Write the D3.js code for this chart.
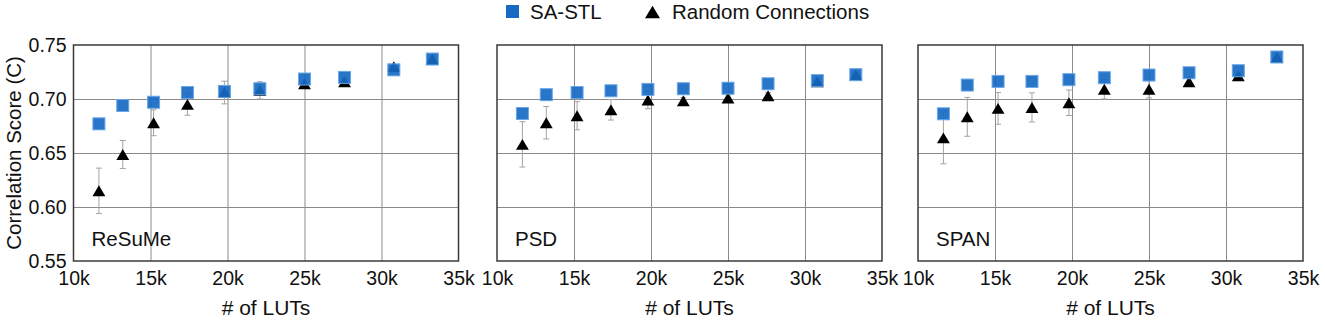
<!DOCTYPE html>
<html>
<head>
<meta charset="utf-8">
<script src="https://cdn.jsdelivr.net/npm/d3@7"></script>
<style>
  body { margin: 0; background: #fff; }
  text { font-family: "Liberation Sans", Arial, sans-serif; fill: #111; }
</style>
</head>
<body>
<div id="chart"></div>
<script>
// # of LUTs (same configurations in every panel)
var luts = [11650, 13200, 15200, 17400, 19800, 22100, 25000, 27600, 30800, 33300]

var panelNames = ["ReSuMe", "PSD", "SPAN"]

// SA-STL scores
var resumeSa = [0.677, 0.694, 0.697, 0.706, 0.707, 0.7095, 0.7185, 0.720, 0.727, 0.737]
var psdSa    = [0.6866, 0.704, 0.706, 0.7076, 0.7089, 0.7095, 0.710, 0.7141, 0.717, 0.7225]
var spanSa   = [0.6863, 0.7129, 0.7163, 0.7163, 0.7179, 0.7197, 0.7222, 0.7243, 0.7262, 0.7389]

// random connections: mean and error
var resumeRand = [0.615, 0.6486, 0.678, 0.695, 0.706, 0.708, 0.714, 0.716, 0.730, 0.737]
var psdRand    = [0.658, 0.678, 0.6845, 0.690, 0.699, 0.6984, 0.701, 0.703, 0.716, 0.7225]
var spanRand   = [0.664, 0.6835, 0.6913, 0.6922, 0.6965, 0.709, 0.709, 0.716, 0.7216, 0.7389]

var resumeErr = [0.021, 0.013, 0.012, 0.010, 0.0105, 0.008, 0.003, 0.003, 0.002, 0.001]
var psdErr    = [0.021, 0.015, 0.013, 0.0095, 0.008, 0.003, 0.003, 0.003, 0.002, 0.001]
var spanErr   = [0.024, 0.018, 0.0147, 0.0135, 0.0118, 0.009, 0.008, 0.003, 0.002, 0.001]

var xTicks = [10000, 15000, 20000, 25000, 30000, 35000]
var yTicks = [0.55, 0.60, 0.65, 0.70, 0.75]

var saList = [resumeSa, psdSa, spanSa]
var randList = [resumeRand, psdRand, spanRand]
var errList = [resumeErr, psdErr, spanErr]

var W = 1325, H = 321
var panelLeft = [73.5, 497, 918],
    panelW = 385,
    plotTop = 45,
    panelH = 216

var blue = "#1769c3", blueEdge = "#6aa6e8"

var svg = d3.select("#chart").append("svg")
    .attr("width", W)
    .attr("height", H)

// triangle centred on its bounding box
var triangle = {
  draw: function(ctx, size) {
    var w = Math.sqrt(size) * 1.15, h = w * 0.85
    ctx.moveTo(0, -h / 2)
    ctx.lineTo(w / 2, h / 2)
    ctx.lineTo(-w / 2, h / 2)
    ctx.closePath()
  }
}

var x = d3.scaleLinear().domain([10000, 35000]).range([0, panelW])
var y = d3.scaleLinear().domain([0.55, 0.75]).range([panelH, 0])

panelNames.forEach(function(name, p) {
  var g = svg.append("g")
      .attr("transform", "translate(" + panelLeft[p] + "," + plotTop + ")")

  // gridlines
  g.append("g")
      .call(d3.axisLeft(y).tickValues(yTicks.slice(1, -1)).tickSize(-panelW).tickFormat(""))
      .call(function(a) { a.select(".domain").remove() })
      .selectAll("line").attr("stroke", "#8a8a8a").attr("stroke-width", 1)
  g.append("g")
      .attr("transform", "translate(0," + panelH + ")")
      .call(d3.axisBottom(x).tickValues(xTicks.slice(1, -1)).tickSize(panelH).tickFormat(""))
      .call(function(a) { a.select(".domain").remove() })
      .selectAll("line").attr("stroke", "#8a8a8a").attr("stroke-width", 1).attr("y2", -panelH)

  // x tick labels
  var xa = g.append("g")
      .attr("transform", "translate(0," + panelH + ")")
      .call(d3.axisBottom(x).tickValues(xTicks).tickSize(0).tickPadding(10)
        .tickFormat(function(d) { return (d / 1000) + "k" }))
  xa.select(".domain").remove()
  xa.attr("font-size", null).attr("font-family", null)
  xa.selectAll("text").style("font-size", "19.5px").attr("fill", "#111")

  // y tick labels only on first panel
  if (p == 0) {
    var ya = g.append("g")
        .call(d3.axisLeft(y).tickValues(yTicks).tickSize(0).tickPadding(7)
          .tickFormat(d3.format(".2f")))
    ya.select(".domain").remove()
    ya.attr("font-size", null).attr("font-family", null)
    ya.selectAll("text").style("font-size", "19.5px").attr("fill", "#111")
  }

  // frame
  g.append("rect")
      .attr("width", panelW).attr("height", panelH)
      .attr("fill", "none").attr("stroke", "#3a3a3a").attr("stroke-width", 1.5)

  var rand = randList[p], err = errList[p], sa = saList[p]

  // error bars
  var eb = g.append("g").attr("stroke", "#a3a3a3").attr("stroke-width", 1)
  luts.forEach(function(l, i) {
    var cx = x(l), y0 = y(rand[i] - err[i]), y1 = y(rand[i] + err[i])
    eb.append("line").attr("x1", cx).attr("x2", cx).attr("y1", y0).attr("y2", y1)
    eb.append("line").attr("x1", cx - 3).attr("x2", cx + 3).attr("y1", y0).attr("y2", y0)
    eb.append("line").attr("x1", cx - 3).attr("x2", cx + 3).attr("y1", y1).attr("y2", y1)
  })

  // random connections
  g.append("g").selectAll("path")
      .data(luts)
    .enter().append("path")
      .attr("d", d3.symbol().type(triangle).size(125))
      .attr("transform", function(d, i) { return "translate(" + x(d) + "," + y(rand[i]) + ")" })
      .attr("fill", "#000")

  // SA-STL
  g.append("g").selectAll("rect")
      .data(luts)
    .enter().append("rect")
      .attr("x", function(d) { return x(d) - 6 })
      .attr("y", function(d, i) { return y(sa[i]) - 6 })
      .attr("width", 12).attr("height", 12)
      .attr("fill", blue).attr("fill-opacity", 0.92)
      .attr("stroke", blueEdge).attr("stroke-width", 1)

  // panel name
  g.append("text")
      .attr("x", 18).attr("y", panelH - 15)
      .style("font-size", "20.5px")
      .text(name)

  // x axis title
  g.append("text")
      .attr("x", panelW / 2).attr("y", H - plotTop - 6)
      .attr("text-anchor", "middle")
      .style("font-size", "21px")
      .text("# of LUTs")
})

// y axis title
svg.append("text")
    .attr("transform", "translate(21," + (plotTop + panelH / 2) + ") rotate(-90)")
    .attr("text-anchor", "middle")
    .style("font-size", "20.5px")
    .text("Correlation Score (C)")

// legend
var lg = svg.append("g")
lg.append("rect").attr("x", 506).attr("y", 5).attr("width", 13).attr("height", 13)
    .attr("fill", blue)
lg.append("text").attr("x", 530).attr("y", 19).style("font-size", "20.5px").text("SA-STL")
lg.append("path")
    .attr("d", d3.symbol().type(triangle).size(170))
    .attr("transform", "translate(652.5,12)")
    .attr("fill", "#000")
lg.append("text").attr("x", 672).attr("y", 19).style("font-size", "20.5px").text("Random Connections")
</script>
</body>
</html>
